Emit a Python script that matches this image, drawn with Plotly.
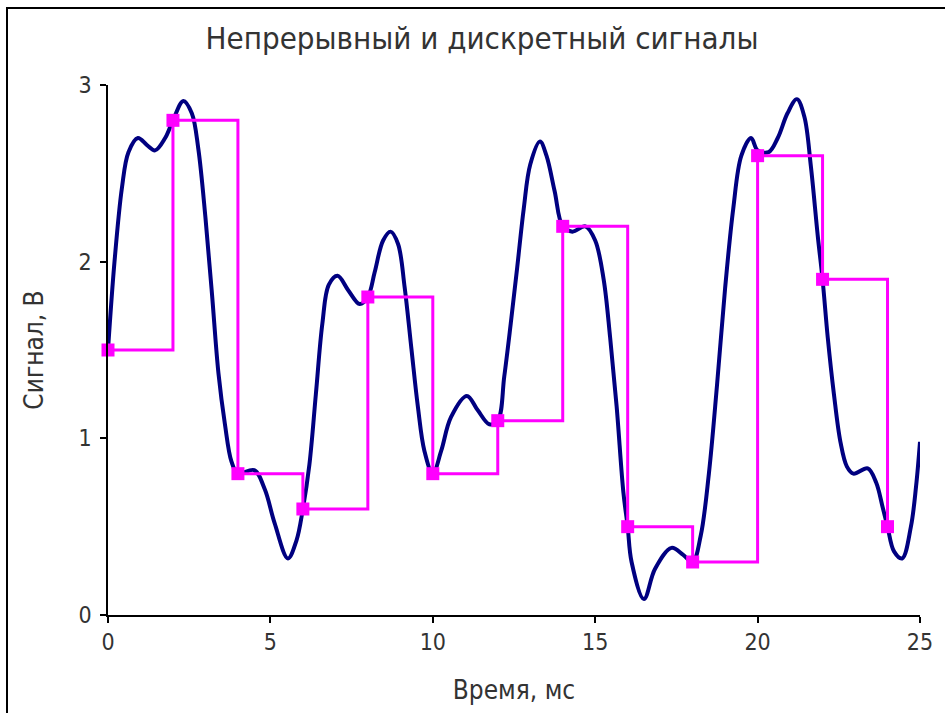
import plotly.graph_objects as go

# Continuous signal
t_cont = [0, 0.2, 0.43, 0.63, 0.92, 1.2, 1.45, 1.76, 2.0, 2.32, 2.58, 2.78, 3.0, 3.2, 3.4, 3.6, 3.8, 4.0,
          4.5, 4.83, 5.13, 5.54, 5.8, 6.0, 6.2, 6.4, 6.6, 6.8, 7.07, 7.39, 7.75, 8.0, 8.21, 8.47, 8.7, 8.93,
          9.13, 9.34, 9.54, 9.74, 10.0, 10.26, 10.56, 11.05, 11.38, 11.74, 12.0, 12.2, 12.4, 12.6, 12.8, 13.0,
          13.3, 13.5, 13.75, 14.0, 14.3, 14.7, 15.0, 15.26, 15.46, 15.66, 15.87, 16.0, 16.12, 16.5, 16.84,
          17.35, 17.71, 18.0, 18.25, 18.5, 18.75, 19.0, 19.25, 19.5, 19.8, 20.0, 20.34, 20.62, 20.92, 21.21,
          21.44, 21.64, 21.85, 22.0, 22.16, 22.35, 22.55, 22.75, 22.95, 23.39, 23.65, 23.85, 24.0, 24.2,
          24.45, 24.72, 24.88, 25.0]
v_cont = [1.5, 2.0, 2.42, 2.62, 2.70, 2.66, 2.63, 2.70, 2.80, 2.91, 2.84, 2.64, 2.25, 1.82, 1.37, 1.08, 0.87, 0.80,
          0.82, 0.71, 0.52, 0.32, 0.42, 0.60, 0.85, 1.25, 1.65, 1.87, 1.92, 1.84, 1.76, 1.80, 1.94, 2.12, 2.17, 2.10,
          1.86, 1.51, 1.18, 0.93, 0.80, 0.93, 1.12, 1.24, 1.16, 1.08, 1.10, 1.35, 1.65, 1.97, 2.3, 2.55,
          2.68, 2.6, 2.4, 2.20, 2.17, 2.20, 2.12, 1.90, 1.57, 1.18, 0.69, 0.50, 0.30, 0.09, 0.26,
          0.38, 0.34, 0.30, 0.45, 0.8, 1.3, 1.85, 2.3, 2.6, 2.70, 2.63, 2.62, 2.70, 2.84, 2.92,
          2.82, 2.54, 2.15, 1.90, 1.57, 1.25, 0.98, 0.84, 0.80, 0.83, 0.75, 0.61, 0.50, 0.36,
          0.32, 0.50, 0.73, 0.98]

# Discrete samples
t_samp = [0, 2, 4, 6, 8, 10, 12, 14, 16, 18, 20, 22, 24]
v_samp = [1.5, 2.8, 0.8, 0.6, 1.8, 0.8, 1.1, 2.2, 0.5, 0.3, 2.6, 1.9, 0.5]

x_ticks = [0, 5, 10, 15, 20, 25]
y_ticks = [0, 1, 2, 3]

title_text = "Непрерывный и дискретный сигналы"
x_title = "Время, мс"
y_title = "Сигнал, В"

FONT = "DejaVu Sans Condensed, DejaVu Sans"

fig = go.Figure()
fig.add_trace(go.Scatter(x=t_cont, y=v_cont, mode="lines",
                         line=dict(color="#000080", width=4, shape="spline", smoothing=1.0),
                         showlegend=False, hoverinfo="skip"))
fig.add_trace(go.Scatter(x=t_samp, y=v_samp, mode="lines+markers",
                         line=dict(color="#ff00ff", width=3, shape="hv"),
                         marker=dict(symbol="square", size=13, color="#ff00ff"),
                         cliponaxis=False, showlegend=False))

axis_common = dict(showgrid=False, zeroline=False, showline=True, linecolor="black", linewidth=1.5,
                   ticks="outside", ticklen=6, tickcolor="black", tickwidth=1.5,
                   tickfont=dict(family=FONT, size=23, color="#333"))

fig.update_layout(
    width=945, height=713,
    margin=dict(l=108, r=25, t=85, b=98),
    paper_bgcolor="white", plot_bgcolor="white",
    title=dict(text=title_text, xref="container", x=482 / 945, xanchor="center",
               y=1 - 38 / 713, yanchor="middle",
               font=dict(family=FONT, size=31, color="#333")),
    xaxis=dict(range=[0, 25], tickvals=x_ticks, title=dict(text=x_title, standoff=26,
               font=dict(family=FONT, size=26, color="#333")), **axis_common),
    yaxis=dict(range=[0, 3], tickvals=y_ticks, ticklabelstandoff=4,
               title=dict(text=y_title, standoff=27,
               font=dict(family=FONT, size=26, color="#333")), **axis_common),
    shapes=[
        dict(type="rect", xref="paper", yref="paper",
             x0=(7 - 108) / 812, x1=(960 - 108) / 812,
             y0=(615 - 730) / 530, y1=(615 - 8) / 530,
             line=dict(color="black", width=2), layer="below"),
    ],
)

fig.write_html("out.html")
